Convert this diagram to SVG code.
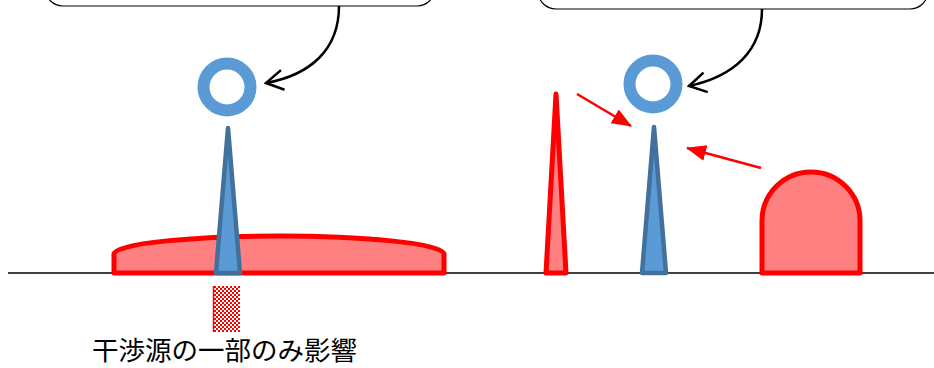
<svg xmlns="http://www.w3.org/2000/svg" width="934" height="368" viewBox="0 0 934 368">
<style>
.box{fill:#fff;stroke:#000;stroke-width:1.2}
.curve{fill:none;stroke:#000;stroke-width:2.5}
.ring{fill:none;stroke:#5B9BD5;stroke-width:12}
.blue{fill:#5B9BD5;stroke:#41719C;stroke-width:4.5;stroke-linejoin:round}
.red{fill:#FF8080;stroke:#FF0000;stroke-width:5;stroke-linejoin:round}
.rarrow{fill:none;stroke:#FF0000;stroke-width:2.5}
.lbl{font-family:"Noto Sans CJK JP","Liberation Sans",sans-serif;font-size:26.5px;fill:#000}
</style>
<defs>
<marker id="open" viewBox="0 0 20 22" refX="18" refY="11" markerWidth="20" markerHeight="22" markerUnits="userSpaceOnUse" orient="auto">
<path d="M1,1 L18,11 L1,21" fill="none" stroke="#000" stroke-width="2.5"/>
</marker>
<marker id="redhead" viewBox="0 0 20 20" refX="19" refY="10" markerWidth="20" markerHeight="20" markerUnits="userSpaceOnUse" orient="auto">
<path d="M0,2 L20,10 L0,18 Z" fill="#FF0000"/>
</marker>
<pattern id="checker" width="4" height="4" patternUnits="userSpaceOnUse">
<rect width="4" height="4" fill="#fff"/>
<rect width="2" height="2" fill="#FF0000"/>
<rect x="2" y="2" width="2" height="2" fill="#FF0000"/>
</pattern>
</defs>
<line x1="8" y1="273" x2="934" y2="273" stroke="#000" stroke-width="1.5"/>
<g id="box-left"><rect class="box" x="45" y="-40" width="390" height="46" rx="18"/></g>
<g id="box-right"><rect class="box" x="538" y="-37" width="390" height="46" rx="18"/></g>
<g id="ring-left"><circle class="ring" cx="227" cy="87" r="23.5"/></g>
<g id="ring-right"><circle class="ring" cx="653" cy="84" r="23.5"/></g>
<g id="wide-interference"><path class="red" d="M114,273 L114,254 C114,243 200,236 279,236 C358,236 444,243 444,254 L444,273 Z"/></g>
<g id="spike-left"><path class="blue" d="M228,128 L240,273 L216,273 Z"/></g>
<g id="checker-mark"><rect x="213" y="286" width="27" height="46" fill="url(#checker)"/><line x1="213.5" y1="286" x2="213.5" y2="332" stroke="#FF0000" stroke-width="1.5"/></g>
<g id="label"><text class="lbl" x="92" y="360">干渉源の一部のみ影響</text></g>
<g id="spike-red"><path class="red" d="M556,94 L566,273 L546,273 Z"/></g>
<g id="spike-right"><path class="blue" d="M654,127 L666,273 L642,273 Z"/></g>
<g id="dome"><path class="red" d="M762,273 L762,221 A49,49 0 0 1 860,221 L860,273 Z"/></g>
<g id="connectors">
<path class="curve" d="M339,6 C339,50 310,75 266,83" marker-end="url(#open)"/>
<path class="curve" d="M762,9 C762,50 735,76 689,86" marker-end="url(#open)"/>
<line class="rarrow" x1="577" y1="94" x2="631" y2="126" marker-end="url(#redhead)"/>
<line class="rarrow" x1="761" y1="168" x2="687" y2="148" marker-end="url(#redhead)"/>
</g>
</svg>
